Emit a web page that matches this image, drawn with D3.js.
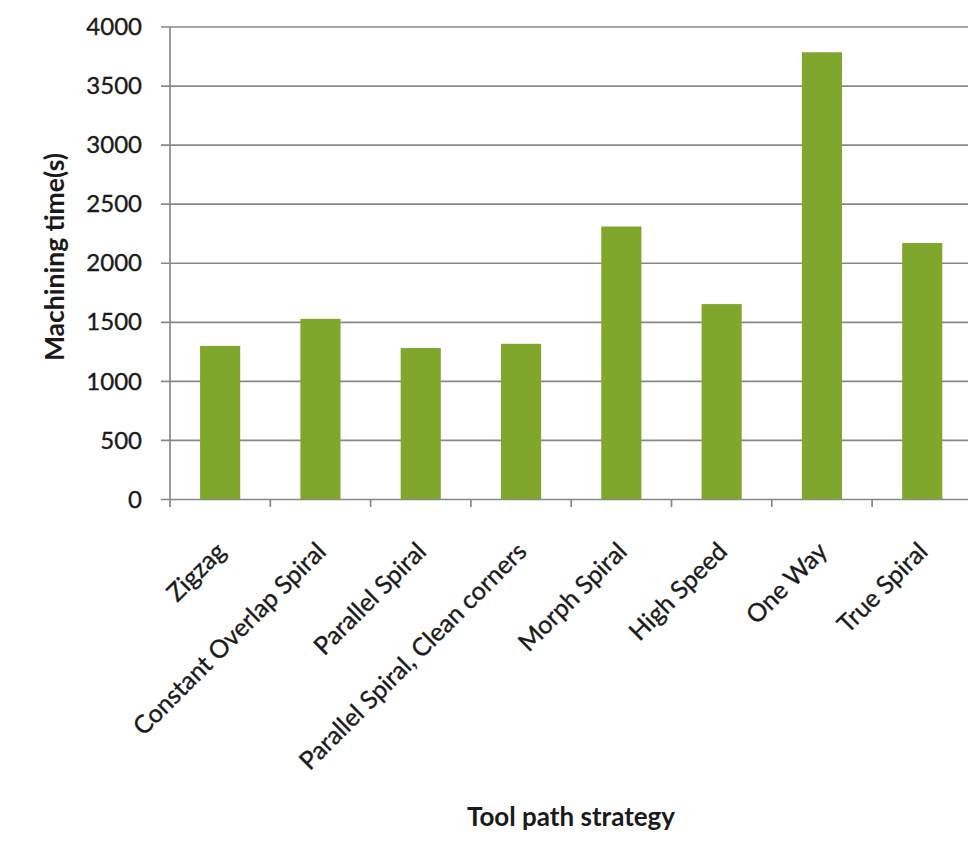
<!DOCTYPE html>
<html>
<head>
<meta charset="utf-8">
<script src="https://cdn.jsdelivr.net/npm/d3@7"></script>
<style>
  html, body { margin: 0; padding: 0; background: #ffffff; }
  svg { display: block; }
  text { font-family: Lato, "Open Sans", sans-serif; fill: #1a1a1a; }
  .lbl { stroke: #1a1a1a; stroke-width: 0.35px; }
</style>
</head>
<body>
<svg id="chart" width="968" height="852"></svg>
<script>
// Machining time per tool path strategy
const categories = [
  "Zigzag",
  "Constant Overlap Spiral",
  "Parallel Spiral",
  "Parallel Spiral, Clean corners",
  "Morph Spiral",
  "High Speed",
  "One Way",
  "True Spiral"
];
const machiningTime = [1296, 1525, 1278, 1314, 2307, 1650, 3782, 2167];
const yTicks = [0, 500, 1000, 1500, 2000, 2500, 3000, 3500, 4000];

const plot = { left: 170, top: 26.5, right: 972.4, bottom: 499 };
const gridColor = "#888888";
const barColor = "#80a62c";

const svg = d3.select("#chart");

const x = d3.scaleBand()
  .domain(categories)
  .range([plot.left, plot.right])
  .paddingInner(0.6)
  .paddingOuter(0.3);

const y = d3.scaleLinear()
  .domain([0, 4000])
  .range([plot.bottom, plot.top]);

const step = x.step();
const gap = step - x.bandwidth();

// horizontal gridlines with outside ticks
const yAxis = d3.axisLeft(y)
  .tickValues(yTicks)
  .tickSize(-(plot.right - plot.left))
  .tickSizeOuter(0)
  .tickPadding(0)
  .tickFormat(() => "");

const gy = svg.append("g")
  .attr("transform", `translate(${plot.left},0)`)
  .call(yAxis);
gy.select(".domain").remove();
gy.selectAll(".tick line")
  .attr("x1", -9)
  .attr("stroke", gridColor)
  .attr("stroke-width", 1.7);

// y tick labels
svg.append("g").selectAll("text")
  .data(yTicks)
  .join("text")
  .attr("class", "lbl")
  .attr("x", 142)
  .attr("y", d => y(d))
  .attr("dy", "0.36em")
  .attr("text-anchor", "end")
  .style("font-size", "24px")
  .text(d => d);

// bars
svg.append("g").selectAll("rect")
  .data(categories)
  .join("rect")
  .attr("x", d => x(d))
  .attr("width", x.bandwidth())
  .attr("y", (d, i) => y(machiningTime[i]))
  .attr("height", (d, i) => y(0) - y(machiningTime[i]))
  .attr("fill", barColor);

// vertical axis line
svg.append("line")
  .attr("x1", plot.left).attr("x2", plot.left)
  .attr("y1", y(4000)).attr("y2", y(0))
  .attr("stroke", gridColor)
  .attr("stroke-width", 1.7);

// category boundary ticks below the baseline
const boundaries = categories.map(c => x(c) - gap / 2);
boundaries.push(x(categories[categories.length - 1]) + x.bandwidth() + gap / 2);
svg.append("g").selectAll("line")
  .data(boundaries)
  .join("line")
  .attr("x1", d => d).attr("x2", d => d)
  .attr("y1", y(0)).attr("y2", y(0) + 8)
  .attr("stroke", gridColor)
  .attr("stroke-width", 1.7);

// rotated category labels
svg.append("g").selectAll("text")
  .data(categories)
  .join("text")
  .attr("class", "lbl")
  .attr("text-anchor", "end")
  .attr("transform", d => `translate(${x(d) + x.bandwidth() / 2 + 7},${y(0) + 54}) rotate(-45)`)
  .style("font-size", "25px")
  .text(d => d);

// axis titles
svg.append("text")
  .attr("transform", `translate(64,257) rotate(-90)`)
  .attr("text-anchor", "middle")
  .style("font-size", "26.5px")
  .style("font-weight", "bold")
  .text("Machining time(s)");

svg.append("text")
  .attr("x", 571)
  .attr("y", 826)
  .attr("text-anchor", "middle")
  .style("font-size", "26px")
  .style("font-weight", "bold")
  .text("Tool path strategy");
</script>
</body>
</html>
